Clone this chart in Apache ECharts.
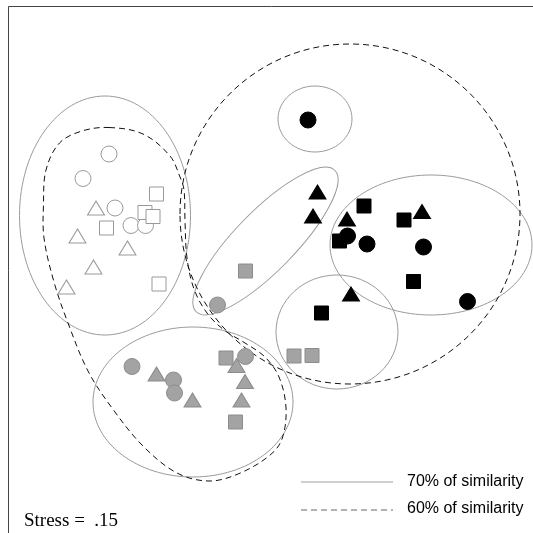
<!DOCTYPE html>
<html>
<head>
<meta charset="utf-8">
<script src="https://cdn.jsdelivr.net/npm/echarts@6/dist/echarts.min.js"></script>
<style>html,body{margin:0;padding:0;background:#fff}#c{width:533px;height:533px}</style>
</head>
<body>
<div id="c"></div>
<script>
// NMDS coordinates (in plot units; y grows downward)
const openCircles   = [[109,154],[83,178.5],[115,208],[131,225.5],[145.5,225.5]];
const openSquares   = [[156.5,194],[145,212.5],[153,216.5],[106.5,228],[159,284]];
const openTriangles = [[96,208],[77.5,236],[127.5,248],[93.5,267],[66.5,287]];
const grayCircles   = [[217.5,305],[132,366.5],[173.5,380],[174.5,393],[245.5,356.5]];
const graySquares   = [[245.5,271],[226,358],[294,356],[312,355.5],[235.5,422]];
const grayTriangles = [[156.5,374],[192.5,400],[236.5,365.5],[245,381.5],[241.5,400]];
const blackCircles  = [[308,120],[347.5,236],[367,244],[423.5,247],[467.5,301.5]];
const blackSquares  = [[364,206],[404,220],[339.5,241],[413.5,281.5],[321.5,313]];
const blackTriangles= [[317.5,192],[313,216],[347,219],[422,211.5],[351,294]];

// 70% similarity groups: [cx, cy, rx, ry, angleDeg]
const groups70 = [[105,215.5,85.5,119.5,0],[315,119,37,33,0],[265.5,241,99,30,45.6],[431,245,101,70,0],[337,332,61,57,0],[193,402,100,75,0]];
// 60% similarity groups
const groups60Ellipse = [[350,214,170,170,0]];
const groups60Outline = [[109,127.5],[143,134],[170,156],[180,177],[184,190],[185,221],[187,258],[194,289],[207,313],[224,330],[245,343],[265,357],[279,377],[286,408],[282,439],[269,456],[238,474],[209,481],[177,473],[143,446],[112,408],[88,371],[68,323],[54,282],[44,238],[43.5,204],[46,170],[59.5,143],[82,131]];

const legendLabels = ['70% of similarity','60% of similarity'];
const stressText = 'Stress =  .15';

const chart = echarts.init(document.getElementById('c'));
const ellipseSeries = (data, dashed, z) => ({
  type:'custom', data: data, z: z, silent:true,
  renderItem: (params, api) => {
    const c = api.coord([api.value(0), api.value(1)]);
    const s = api.size([api.value(2), api.value(3)]);
    return {type:'ellipse', x:c[0], y:c[1], rotation: api.value(4)*Math.PI/180,
      shape:{cx:0, cy:0, rx:s[0], ry:s[1]},
      style:{fill:'none', stroke: dashed ? '#111' : '#9a9a9a', lineWidth: 1, lineDash: dashed ? [6,4] : null}};
  }
});
const markerSeries = (data, symbol, size, fill, stroke) => ({
  type:'scatter', data: data, symbol: symbol, symbolSize: size, z: 5, silent:true,
  itemStyle:{color: fill, borderColor: stroke, borderWidth: 1, opacity:1}
});
chart.setOption({
  animation:false,
  grid:{left:0,right:0,top:0,bottom:0},
  xAxis:{type:'value',min:0,max:533,show:false},
  yAxis:{type:'value',min:0,max:533,inverse:true,show:false},
  series:[
    ellipseSeries(groups70,false,2),
    ellipseSeries(groups60Ellipse,true,2),
    {type:'custom', z:2, silent:true, data:[0],
     renderItem:(params, api) => ({type:'polygon',
       shape:{points: groups60Outline.map(p => api.coord(p)), smooth:0.35},
       style:{fill:'none', stroke:'#111', lineWidth:1, lineDash:[6,4]}})},
    markerSeries(openCircles,'circle',16,'#fff','#999'),
    markerSeries(openSquares,'rect',14,'#fff','#999'),
    markerSeries(openTriangles,'triangle',[17,14],'#fff','#999'),
    markerSeries(grayCircles,'circle',16,'#a3a3a3','#8c8c8c'),
    markerSeries(graySquares,'rect',14,'#a3a3a3','#8c8c8c'),
    markerSeries(grayTriangles,'triangle',[17,14],'#a3a3a3','#8c8c8c'),
    markerSeries(blackCircles,'circle',16,'#000','#000'),
    markerSeries(blackSquares,'rect',14,'#000','#000'),
    markerSeries(blackTriangles,'triangle',[17,14],'#000','#000')
  ],
  graphic:[
    {type:'rect', shape:{x:8.5,y:6.5,width:600,height:600}, style:{fill:'none',stroke:'#444',lineWidth:1}},
    {type:'line', shape:{x1:301,y1:482,x2:393,y2:482}, style:{stroke:'#a0a0a0',lineWidth:1}},
    {type:'line', shape:{x1:301,y1:510,x2:393,y2:510}, style:{stroke:'#666',lineWidth:1,lineDash:[6,4]}},
    {type:'text', x:407, y:482, style:{text:legendLabels[0], font:'16px "Liberation Sans", Arial, sans-serif', fill:'#000', verticalAlign:'middle'}},
    {type:'text', x:407, y:509, style:{text:legendLabels[1], font:'16px "Liberation Sans", Arial, sans-serif', fill:'#000', verticalAlign:'middle'}},
    {type:'text', x:24, y:521, style:{text:stressText, font:'19px "Liberation Serif", "Times New Roman", serif', fill:'#000', verticalAlign:'middle'}}
  ]
});
</script>
</body>
</html>
